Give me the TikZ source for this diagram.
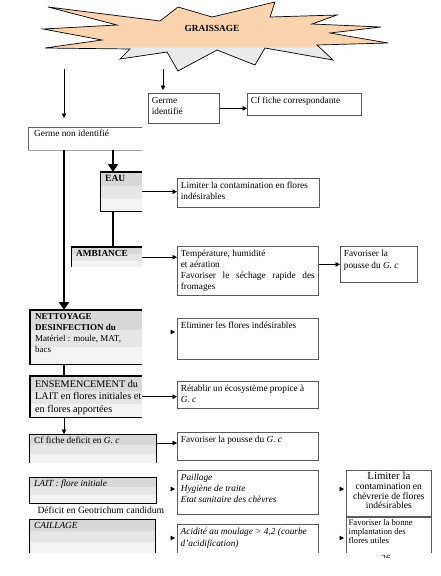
\documentclass[tikz,border=0pt]{standalone}
\usepackage{fontspec}
\setmainfont{Liberation Serif}
\usetikzlibrary{arrows.meta,calc,backgrounds}
\definecolor{peach}{RGB}{251,211,172}
\definecolor{stargray}{RGB}{234,234,234}
\definecolor{bordergray}{RGB}{90,90,90}
\definecolor{bandA}{RGB}{216,216,216}
\definecolor{bandB}{RGB}{230,230,230}
\definecolor{bandC}{RGB}{243,243,243}
\tikzset{
  rbox/.style={draw=bordergray, line width=0.7pt, fill=white, anchor=north west, inner sep=0pt},
  rboxopen/.style={draw=none, fill=white, anchor=north west, inner sep=0pt},
  lbox/.style={draw=none, anchor=north west, inner sep=0pt},
  wbox/.style={draw=none, anchor=north west, inner sep=0pt},
  side/.style={draw=black, line width=0.9pt},
  heavyside/.style={draw=black, line width=1.5pt},
  lightside/.style={draw=black!35, line width=0.6pt},
  openside/.style={draw=bordergray, line width=0.7pt},
  tarrow/.style={-{Triangle[length=4.5pt,width=4.5pt]}, line width=0.7pt},
  headonly/.style={tarrow, shorten >=2pt},
  thickline/.style={line width=2.8pt},
  thickarrow/.style={-{Triangle[length=8pt,width=10pt]}, line width=2.8pt},
  starshape/.style={draw=black, line width=0.7pt, line join=miter},
}
\newcommand\starpoly{(48,7) -- (160,21) -- (178,7) -- (212,17) -- (275,2) -- (270,17) -- (337,15) -- (312,24) -- (381,27) -- (330,33) -- (388,43) -- (317,45) -- (333,60) -- (265,48) -- (255,65) -- (217,50) -- (178,71) -- (167,52) -- (120,59) -- (130,49) -- (45,48) -- (102,40) -- (43,29) -- (117,25) -- cycle}
\newcommand\bx[8]{\node[#1, minimum width=#5pt, minimum height=#6pt] (#2) at (#3,#4) {\parbox[c][\dimexpr#6pt-4pt\relax][t]{\dimexpr#5pt-#7pt-#7pt\relax}{\hyphenpenalty=10000\exhyphenpenalty=10000 #8}};}
\newcommand\bands[1]{%
  \fill[bandA] (#1.north west) rectangle ($(#1.north east)!0.36!(#1.south east)$);
  \fill[bandB] ($(#1.north west)!0.36!(#1.south west)$) rectangle ($(#1.north east)!0.68!(#1.south east)$);
  \fill[bandC] ($(#1.north west)!0.68!(#1.south west)$) rectangle (#1.south east);}
\begin{document}
\begin{tikzpicture}[x=1pt,y=-1pt, every node/.style={font=\fontsize{9.3}{11}\selectfont}]
\useasboundingbox (0,0) rectangle (440,576);
% star
\fill[peach] \starpoly;
\begin{scope}
\clip (0,47) rectangle (440,80);
\fill[stargray] \starpoly;
\end{scope}
\draw[starshape] \starpoly;
\node[font=\fontsize{9.3}{11}\selectfont\bfseries] (graissage) at (212,28) {GRAISSAGE};
\coordinate (s1) at (64,69);
\coordinate (s2) at (163,69);
\coordinate (cx0) at (64,0);
\coordinate (cx1) at (113,0);
\coordinate (relim) at (0,332);
\coordinate (rcfd) at (0,443);
\coordinate (rlait) at (0,489);
\coordinate (rcail) at (0,538);
% boxes
\bx{rbox}{gi}{148}{93}{71}{30}{3.5}{\strut Germe\\identifié}
\bx{rbox}{cf}{247}{93}{114}{22}{3.5}{\strut Cf fiche correspondante}
\bx{wbox}{gni}{28}{127}{114}{23}{6}{\strut Germe non identifié}
\bx{lbox}{eau}{100}{172}{42}{39}{5}{\fontsize{9.5}{11}\selectfont\strut\textbf{EAU}}
\bx{rbox}{lim1}{177}{178}{142}{29}{3.5}{\strut Limiter la contamination en flores\\indésirables}
\bx{lbox}{amb}{71}{247}{71}{20}{5}{\strut\textbf{AMBIANCE}}
\bx{rbox}{temp}{177}{246}{141}{49}{3.5}{\strut Température, humidité\\et aération\\Favoriser le séchage rapide des fromages}
\bx{rbox}{fav1}{340}{246}{77}{36}{3.5}{\fontsize{9.3}{12}\selectfont\strut Favoriser la\\pousse du \textit{G. c}}
\bx{lbox}{nett}{30}{310}{112}{54}{5}{\fontsize{9}{10.8}\selectfont\strut\textbf{NETTOYAGE}\\\textbf{DESINFECTION du}\\\mbox{Matériel : moule, MAT,}\\bacs}
\bx{rbox}{elim}{177}{318}{141}{41}{3.5}{\strut Eliminer les flores indésirables}
\bx{lbox}{ens}{30}{376}{112}{41}{5}{\fontsize{10.2}{12.8}\selectfont\strut\mbox{ENSEMENCEMENT du}\\\mbox{LAIT en flores initiales et}\\\mbox{en flores apportées}}
\bx{rbox}{reta}{177}{381}{141}{27}{3.5}{\strut Rétablir un écosystème propice à\\\textit{G. c}}
\bx{lbox}{cfd}{29}{434}{127}{29}{5}{\strut Cf fiche deficit en \textit{G. c}}
\bx{rbox}{fav2}{177}{432}{141}{28}{3.5}{\strut Favoriser la pousse du \textit{G. c}}
\bx{lbox}{lait}{29}{477}{127}{26}{5}{\strut\textit{LAIT : flore initiale}}
\bx{rbox}{pail}{177}{470}{141}{44}{3.5}{\itshape\strut Paillage\\Hygiène de traite\\Etat sanitaire des chèvres}
\bx{rbox}{lim2}{346}{470}{85}{46}{2}{\fontsize{9.6}{9.6}\selectfont\centering\strut{\fontsize{10.8}{11}\selectfont Limiter la}\\contamination en\\chèvrerie de flores\\indésirables}
\bx{lbox}{cail}{29}{519}{126}{34}{5}{\strut\textit{CAILLAGE}}
\bx{rboxopen}{acid}{177}{524}{141}{29}{3.5}{\itshape\fontsize{9.3}{12}\selectfont\strut Acidité au moulage > 4,2 (courbe\\d'acidification)}
\bx{rboxopen}{fav3}{346}{517}{85}{36}{2.5}{\fontsize{8.6}{9}\selectfont\strut Favoriser la bonne\\implantation des\\flores utiles}
\node[anchor=base west, font=\fontsize{9.6}{11}\selectfont] (deftxt) at (34,513) {Déficit en Geotrichum candidum};
\begin{scope}
\clip (370,545) rectangle (400,557.5);
\node[anchor=base] (pg) at (386,561) {26};
\end{scope}
% shaded bands of the left boxes
\begin{scope}[on background layer]
\bands{eau}
\bands{amb}
\bands{nett}
\bands{ens}
\bands{cfd}
\bands{lait}
\bands{cail}
\end{scope}
% box borders
\draw[draw=black!60, line width=0.6pt] (gni.north east) -- (gni.north west) -- (gni.south west);
\draw[lightside] (gni.south west) -- (gni.south east);
\draw[heavyside] (eau.north west) -- (eau.north east);
\draw[side, line width=0.6pt] (eau.north west) -- (eau.south west);
\draw[side] (eau.south west) -- (eau.south east);
\draw[heavyside] (amb.north west) -- (amb.north east);
\draw[side, line width=0.6pt] (amb.north west) -- (amb.south west);
\draw[side, line width=1.2pt] (nett.north east) -- (nett.north west) -- (nett.south west) -- (nett.south east);
\draw[side, line width=1.2pt] (ens.north east) -- (ens.north west) -- (ens.south west) -- (ens.south east);
\draw[side] (cfd.south west) -- (cfd.north west) -- (cfd.north east) -- (cfd.south east);
\draw[side] (lait.north west) rectangle (lait.south east);
\draw[side] (cail.south west) -- (cail.north west) -- (cail.north east) -- (cail.south east);
\draw[openside] (acid.south west) -- (acid.north west) -- (acid.north east) -- (acid.south east);
\draw[openside] (fav3.south west) -- (fav3.north west) -- (fav3.north east) -- (fav3.south east);
% connectors
\draw[tarrow, shorten >=9pt] (s1) -- (s1 |- gni.north);
\draw[tarrow, shorten >=3pt] (s2) -- (s2 |- gi.north);
\draw[tarrow] (gi.east) -- (gi.east -| cf.west);
\draw[thickarrow] (gni.south -| cx1) -- (eau.north -| cx1);
\draw[thickarrow] (gni.south -| cx0) -- (nett.north -| cx0);
\draw[thickline] (eau.south -| cx1) -- (amb.north -| cx1);
\draw[tarrow] (eau.east) -- (eau.east -| lim1.west);
\draw[tarrow] (amb.east) -- (amb.east -| temp.west);
\draw[tarrow] (fav1.west -| temp.east) -- (fav1.west);
\draw[headonly, shorten <=28.5pt] (nett.east |- relim) -- (elim.west |- relim);
\draw[thickline] (nett.south -| cx0) -- (ens.north -| cx0);
\draw[tarrow] (ens.east) -- (ens.east -| reta.west);
\draw[tarrow] (ens.south -| cx0) -- (cfd.north -| cx0);
\draw[tarrow] (cfd.east |- rcfd) -- (fav2.west |- rcfd);
\draw[headonly, shorten <=14.5pt] (lait.east |- rlait) -- (pail.west |- rlait);
\draw[headonly, shorten <=21.5pt] (pail.east |- rlait) -- (lim2.west |- rlait);
\draw[headonly, shorten <=15.5pt] (cail.east |- rcail) -- (acid.west |- rcail);
\draw[headonly, shorten <=21.5pt] (acid.east |- rcail) -- (fav3.west |- rcail);
\end{tikzpicture}
\end{document}
